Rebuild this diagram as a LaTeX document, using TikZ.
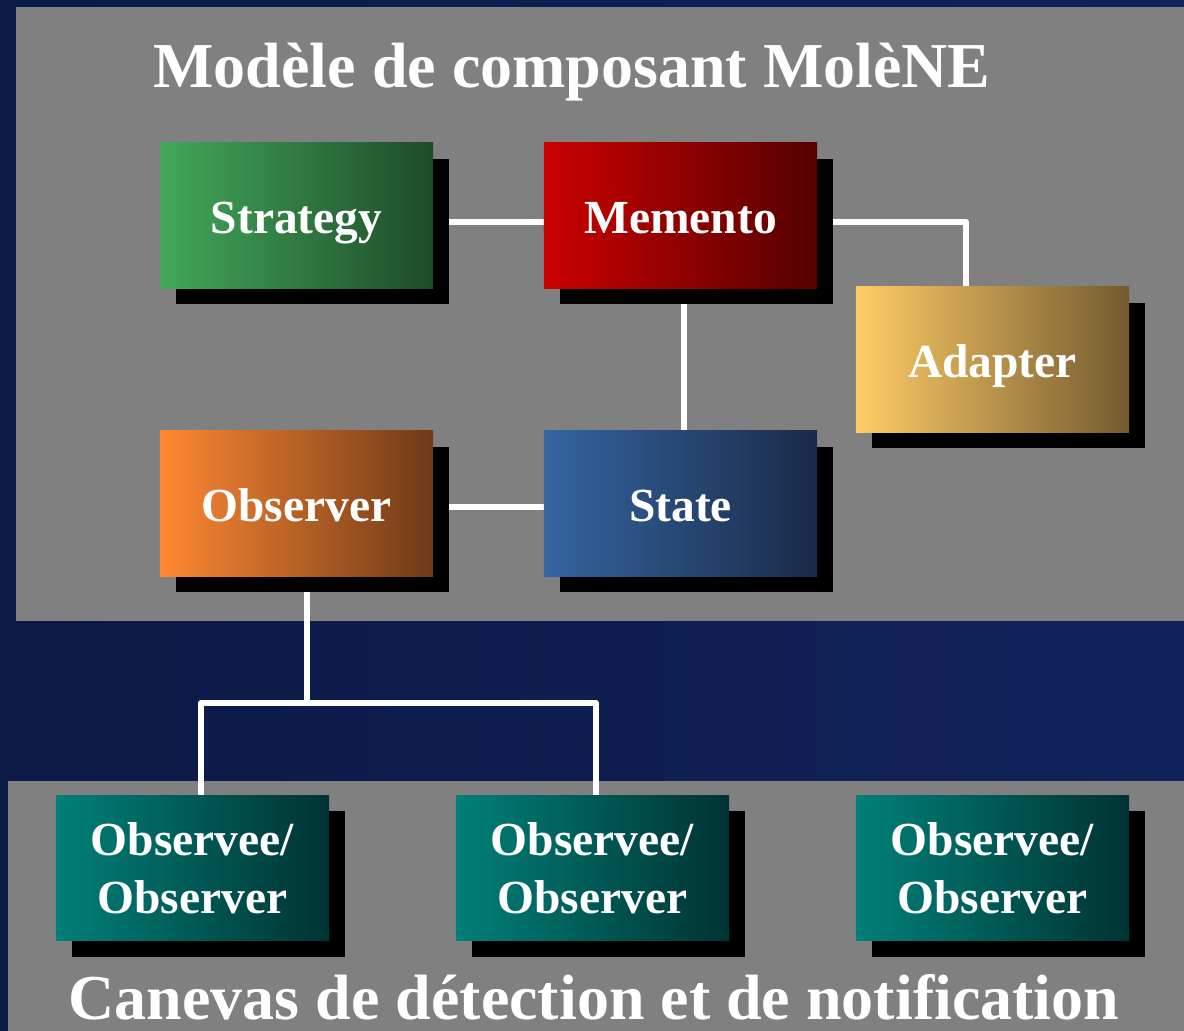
\documentclass[tikz,border=0pt]{standalone}
\usepackage{fontspec}
\setmainfont{Liberation Serif}
\usepackage{tikz}
\usetikzlibrary{shadows}

\pgfdeclarelayer{panel}
\pgfdeclarelayer{wires}
\pgfsetlayers{panel,wires,main}

\definecolor{navyleft}{HTML}{0B1A45}
\definecolor{navyright}{HTML}{11225C}
\definecolor{panelgray}{HTML}{808080}
\definecolor{greenL}{HTML}{42A85A}
\definecolor{greenR}{HTML}{1E4B28}
\definecolor{redL}{HTML}{CC0000}
\definecolor{redR}{HTML}{550000}
\definecolor{goldL}{HTML}{FFCC66}
\definecolor{goldR}{HTML}{725A30}
\definecolor{orangeL}{HTML}{FF8833}
\definecolor{orangeR}{HTML}{6E3A18}
\definecolor{blueL}{HTML}{3465A0}
\definecolor{blueR}{HTML}{1A2A48}
\definecolor{tealL}{HTML}{008078}
\definecolor{tealR}{HTML}{003333}

\tikzset{
	box/.style={minimum width=2.73cm, minimum height=1.45cm, inner sep=0pt,
		font=\fontsize{13.5}{16.5}\selectfont\bfseries, text=white, align=center,
		drop shadow={shadow xshift=0.16cm, shadow yshift=-0.16cm, fill=black, opacity=1}},
	oneline/.style={box, text height=12pt, text depth=2pt},
	wire/.style={draw=white, line width=1.7pt, line cap=round, line join=round},
	heading/.style={anchor=base, text=white, font=\fontsize{18.2}{22}\selectfont\bfseries}
}

\begin{document}
\begin{tikzpicture}[x=0.01cm, y=-0.01cm]
				\useasboundingbox (0,0) rectangle (1184,1031);
				\begin{pgfonlayer}{panel}
				\shade[left color=navyleft, right color=navyright] (0,0) rectangle (1184,1031);
				\fill[panelgray] (16,7) rectangle (1184,621);
				\fill[panelgray] (8,781) rectangle (1184,1031);
				\end{pgfonlayer}
				
				\node[heading] (top) at (572,88) {Modèle de composant MolèNE};
				\node[heading] (bottom) at (594,1020) {Canevas de détection et de notification};
				
				\node[oneline, left color=greenL, right color=greenR] (strategy) at (296.5,215.5) {Strategy};
				\node[oneline, left color=redL, right color=redR] (memento) at (680.5,215.5) {Memento};
				\node[oneline, left color=goldL, right color=goldR] (adapter) at (992.5,359.5) {Adapter};
				\node[oneline, left color=orangeL, right color=orangeR] (observer) at (296.5,503.5) {Observer};
				\node[oneline, left color=blueL, right color=blueR] (state) at (680.5,503.5) {State};
				
				\node[box, left color=tealL, right color=tealR] (obsA) at (192.5,868) {Observee/\\Observer};
				\node[box, left color=tealL, right color=tealR] (obsB) at (592.5,868) {Observee/\\Observer};
				\node[box, left color=tealL, right color=tealR] (obsC) at (992.5,868) {Observee/\\Observer};
				
				\coordinate (fork) at (307,703);
				
				\begin{pgfonlayer}{wires}
				\draw[wire] ([yshift=-0.065cm]strategy.east) -- ([yshift=-0.065cm]memento.west);
				\draw[wire] ([yshift=-0.065cm]memento.east) -| ([xshift=-0.265cm]adapter.north);
				\draw[wire] ([xshift=0.035cm]memento.south) -- ([xshift=0.035cm]state.north);
				\draw[wire] ([yshift=-0.035cm]observer.east) -- ([yshift=-0.035cm]state.west);
				\draw[wire] ([xshift=0.105cm]observer.south) -- (fork);
				\draw[wire] ([xshift=0.085cm]obsA.north) |- (fork) -| ([xshift=0.035cm]obsB.north);
				\end{pgfonlayer}
			\end{tikzpicture}
\end{document}
